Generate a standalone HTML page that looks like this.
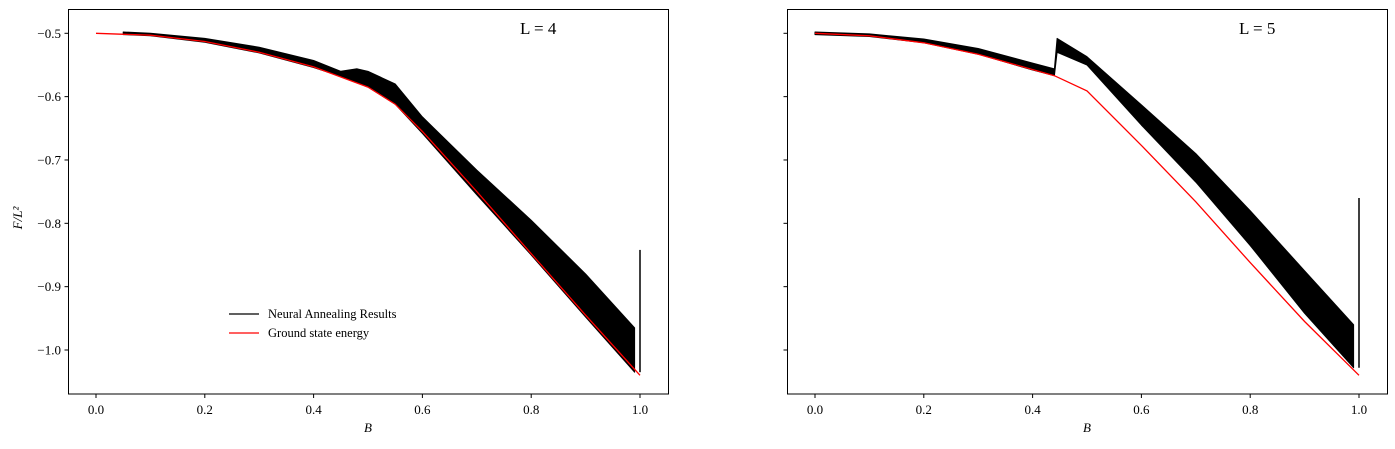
<!DOCTYPE html>
<html><head><meta charset="utf-8"><style>
html,body{margin:0;padding:0;background:#fff;}
svg text{font-family:"Liberation Serif",serif;fill:#000;}
</style></head><body>
<svg id="chart" width="1395" height="444" viewBox="0 0 1395 444"></svg>
<script>
// ---- data ----
const xTicks = [0.0, 0.2, 0.4, 0.6, 0.8, 1.0];
const yTicks = [-0.5, -0.6, -0.7, -0.8, -0.9, -1.0];
const yTickLabels = ["\u22120.5","\u22120.6","\u22120.7","\u22120.8","\u22120.9","\u22121.0"];
const l4GroundB = [0, 0.1, 0.2, 0.3, 0.4, 0.5, 0.55, 0.6, 0.7, 0.8, 0.9, 1.0];
const l4GroundE = [-0.5, -0.503, -0.513, -0.53, -0.553, -0.585, -0.612, -0.655, -0.75, -0.848, -0.945, -1.04];
const l4NetB = [0.05, 0.1, 0.2, 0.3, 0.4, 0.45, 0.48, 0.5, 0.55, 0.6, 0.7, 0.8, 0.9, 0.99];
const l4NetTop = [-0.498, -0.5, -0.508, -0.522, -0.543, -0.56, -0.556, -0.56, -0.58, -0.632, -0.716, -0.795, -0.88, -0.965];
const l4NetBot = [-0.502, -0.504, -0.514, -0.531, -0.554, -0.568, -0.578, -0.585, -0.612, -0.658, -0.755, -0.85, -0.948, -1.035];
const l4Spike = -0.842;
const l5GroundB = [0, 0.1, 0.2, 0.3, 0.44, 0.5, 0.6, 0.7, 0.8, 0.9, 1.0];
const l5GroundE = [-0.5, -0.504, -0.515, -0.533, -0.567, -0.591, -0.677, -0.766, -0.862, -0.955, -1.04];
const l5NetB = [0.0, 0.1, 0.2, 0.3, 0.4, 0.44, 0.445, 0.5, 0.6, 0.7, 0.8, 0.9, 0.99];
const l5NetTop = [-0.498, -0.501, -0.509, -0.524, -0.547, -0.556, -0.508, -0.537, -0.613, -0.69, -0.78, -0.875, -0.96];
const l5NetBot = [-0.502, -0.505, -0.515, -0.533, -0.558, -0.567, -0.53, -0.55, -0.645, -0.735, -0.835, -0.942, -1.028];
const l5Spike = -0.76;

const NS = "http://www.w3.org/2000/svg";
const svg = document.getElementById('chart');
function mk(tag, attrs, parent){const e=document.createElementNS(NS,tag);for(const k in attrs)e.setAttribute(k,attrs[k]);(parent||svg).appendChild(e);return e;}

const yScale = v => 33.3 + (-0.5 - v) * 633.4;

function panel(x0, title, gB, gE, nB, nT, nBot, spike, showY, showLegend){
  const xs = v => x0 + 28 + v * 544;
  const g = mk('g', {});
  
  
  let pts = [];
  for (let i=0;i<nB.length;i++) pts.push(xs(nB[i]).toFixed(1)+','+yScale(nT[i]).toFixed(1));
  for (let i=nB.length-1;i>=0;i--) pts.push(xs(nB[i]).toFixed(1)+','+yScale(nBot[i]).toFixed(1));
  const band = mk('polygon', {points: pts.join(' '), fill:'#000', stroke:'#000', 'stroke-width':1, 'stroke-linejoin':'round'}, g);
  
  
  const sp = mk('line', {x1:xs(1), x2:xs(1), y1:yScale(nBot[nBot.length-1]), y2:yScale(spike), stroke:'#000', 'stroke-width':1.5}, g);
  
  
  const red = mk('polyline', {points: gB.map((b,i)=>xs(b).toFixed(1)+','+yScale(gE[i]).toFixed(1)).join(' '), fill:'none', stroke:'#f00', 'stroke-width':1.3}, g);
  
  
  const fr = mk('rect', {x:x0+0.5, y:9.5, width:600, height:384.5, fill:'none', stroke:'#000', 'stroke-width':1}, g);
  
  
  xTicks.forEach(t=>{
    mk('line',{x1:xs(t),x2:xs(t),y1:394,y2:398,stroke:'#000'},g);
    const tx = mk('text',{x:xs(t),y:414,'font-size':13,'text-anchor':'middle'},g);
    tx.textContent = t.toFixed(1);
    
    
  });
  yTicks.forEach((t,i)=>{
    mk('line',{x1:x0+0.5,x2:x0-3.5,y1:yScale(t),y2:yScale(t),stroke:'#000'},g);
    if (showY){
      const tx = mk('text',{x:x0-7,y:yScale(t)+4.5,'font-size':13,'text-anchor':'end'},g);
      tx.textContent = yTickLabels[i];
      
      
    }
  });
  const xl = mk('text',{x:x0+300,y:432,'font-size':13,'font-style':'italic','text-anchor':'middle'},g);
  xl.textContent = 'B';
  
  
  const tt = mk('text',{x:x0+452,y:34,'font-size':17},g);
  tt.textContent = title;
  
  
  if (showY){
    const yl = mk('text',{x:22,y:218,'font-size':13,'font-style':'italic','text-anchor':'middle',transform:'rotate(-90 22 218)'},g);
    yl.textContent = 'F/L\u00B2';
    
    
  }
  if (showLegend){
    const lg = mk('g',{},g);
    
    
    mk('line',{x1:229,x2:259,y1:314,y2:314,stroke:'#000','stroke-width':1.3},lg);
    const t1 = mk('text',{x:268,y:318,'font-size':12.5},lg);
    t1.textContent='Neural Annealing Results';
    
    
    mk('line',{x1:229,x2:259,y1:333,y2:333,stroke:'#f00','stroke-width':1.3},lg);
    const t2 = mk('text',{x:268,y:337,'font-size':12.5},lg);
    t2.textContent='Ground state energy';
    
    
  }
}
panel(68, 'L = 4', l4GroundB, l4GroundE, l4NetB, l4NetTop, l4NetBot, l4Spike, true, true);
panel(787, 'L = 5', l5GroundB, l5GroundE, l5NetB, l5NetTop, l5NetBot, l5Spike, false, false);
</script>
</body></html>
